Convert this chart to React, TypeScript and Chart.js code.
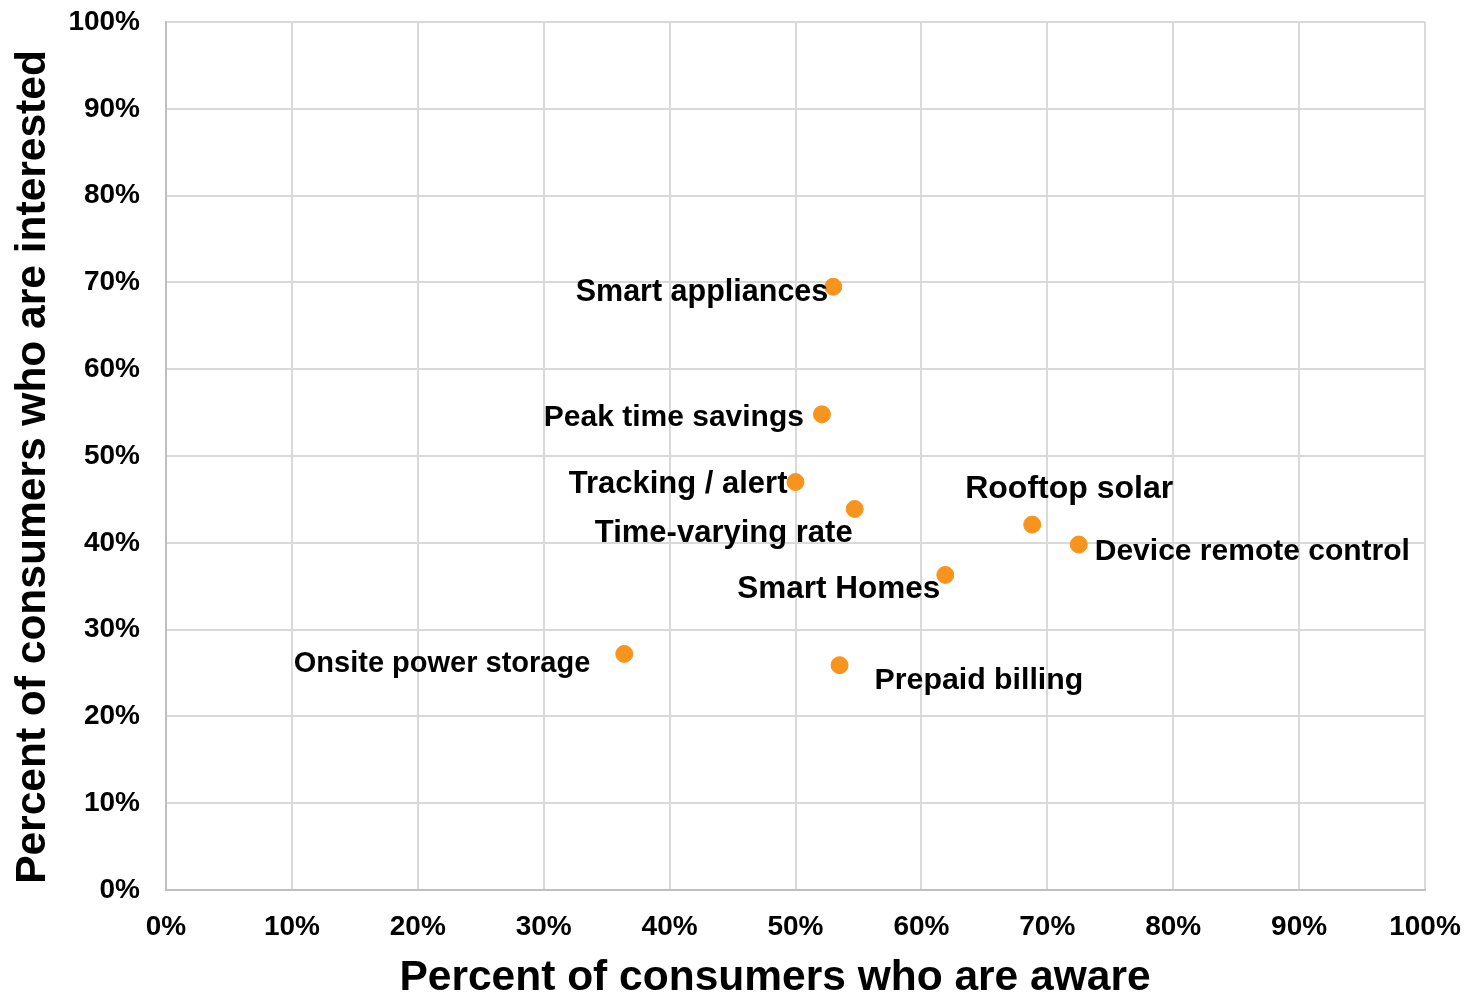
import React, { useEffect, useRef } from "react";
import { Chart, registerables } from "chart.js";

Chart.register(...registerables);

const labels = [
  "Smart appliances",
  "Peak time savings",
  "Tracking / alert",
  "Time-varying rate",
  "Rooftop solar",
  "Device remote control",
  "Smart Homes",
  "Onsite power storage",
  "Prepaid billing",
];
const aware = [53.0, 52.1, 50.0, 54.7, 68.8, 72.5, 61.9, 36.4, 53.5];
const interested = [69.5, 54.8, 47.0, 43.9, 42.1, 39.8, 36.3, 27.2, 25.9];

const xTitle = "Percent of consumers who are aware";
const yTitle = "Percent of consumers who are interested";

// label placement relative to point (pixels): [dx, dy, align, fontSize]
const labelPlace: [number, number, CanvasTextAlign, number][] = [
  [-5, 6, "right", 30.5],
  [-18, 3, "right", 30],
  [-8, 2, "right", 31],
  [-2, 25, "right", 31],
  [-67, -35, "left", 32],
  [16, 7, "left", 30],
  [-5, 14, "right", 31.5],
  [-34, 10, "right", 29],
  [35, 15, "left", 30.3],
];

const FONT = "'Liberation Sans', Arial, sans-serif";

const labelPlugin = {
  id: "pointLabels",
  afterDatasetsDraw(chart: any) {
    const ctx = chart.ctx;
    const meta = chart.getDatasetMeta(0);
    ctx.save();
    ctx.fillStyle = "#000";
    ctx.textBaseline = "middle";
    meta.data.forEach((el: any, i: number) => {
      const [dx, dy, al, fs] = labelPlace[i];
      ctx.font = `bold ${fs}px ${FONT}`;
      ctx.textAlign = al;
      ctx.fillText(labels[i], el.x + dx, el.y + dy);
    });
    // axis titles
    ctx.font = `bold 42.5px ${FONT}`;
    ctx.textAlign = "center";
    ctx.textBaseline = "alphabetic";
    ctx.fillText(xTitle, 775, 990);
    ctx.translate(45, 467);
    ctx.rotate(-Math.PI / 2);
    ctx.fillText(yTitle, 0, 0);
    ctx.restore();
  },
};

export default function App() {
  const ref = useRef<HTMLCanvasElement>(null);
  useEffect(() => {
    if (!ref.current) return;
    const chart = new Chart(ref.current, {
      type: "scatter",
      data: {
        datasets: [
          {
            data: aware.map((x, i) => ({ x, y: interested[i] })),
            backgroundColor: "#F7941D",
            borderColor: "#F7941D",
            pointRadius: 8.5,
            pointHoverRadius: 8.5,
          },
        ],
      },
      options: {
        animation: false,
        responsive: false,
        maintainAspectRatio: false,
        layout: { padding: { top: 22, right: 44, left: 0, bottom: 0 } },
        plugins: {
          legend: { display: false },
          tooltip: { enabled: false },
        },
        scales: {
          x: {
            type: "linear",
            min: 0,
            max: 100,
            ticks: {
              stepSize: 10,
              callback: (v: any) => `${v}%`,
              color: "#000",
              font: { family: FONT, size: 28, weight: "bold" },
              padding: 20,
              maxRotation: 0,
            },
            grid: { color: "#d9d9d9", lineWidth: 2, drawTicks: false },
            border: { color: "#bfbfbf", width: 2 },
            afterFit: (s: any) => {
              s.height = 106;
              s.paddingLeft = 0;
              s.paddingRight = 0;
            },
          },
          y: {
            type: "linear",
            min: 0,
            max: 100,
            ticks: {
              stepSize: 10,
              callback: (v: any) => `${v}%`,
              color: "#000",
              font: { family: FONT, size: 28, weight: "bold" },
              padding: 26,
            },
            grid: { color: "#d9d9d9", lineWidth: 2, drawTicks: false },
            border: { color: "#bfbfbf", width: 2 },
            afterFit: (s: any) => {
              s.width = 166;
              s.paddingTop = 0;
              s.paddingBottom = 0;
            },
          },
        },
      },
      plugins: [labelPlugin],
    });
    return () => chart.destroy();
  }, []);
  return (
    <div style={{ position: "absolute", left: 0, top: 0, width: 1469, height: 996, background: "#fff" }}>
      <canvas ref={ref} width={1469} height={996} />
    </div>
  );
}
